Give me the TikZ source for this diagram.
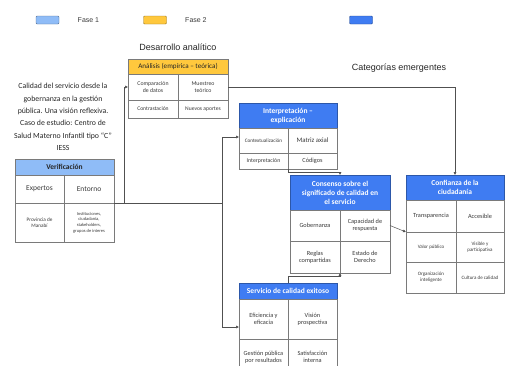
\documentclass[tikz,border=0pt]{standalone}
\usepackage{fontspec}
\setmainfont{Carlito}
\newfontfamily\arialfont{Liberation Sans}
\usepackage{tikz}
\usetikzlibrary{arrows.meta,positioning}
\definecolor{azulclaro}{HTML}{8FBCF7}
\definecolor{naranja}{HTML}{FFC83D}
\definecolor{azul}{HTML}{3F7CF2}
\definecolor{gris}{HTML}{7A7A7A}
\definecolor{textogris}{HTML}{3A3A3A}
\definecolor{lineagris}{HTML}{505050}
\tikzstyle{celda}=[
	rectangle,
	draw=gris,
	fill=white,
	inner sep=0,
	outer sep=0,
	align=center,
	anchor=north west,
	text=textogris,
	font=\fontsize{6.3}{7.3}\selectfont]
\tikzstyle{cabecera}=[
	celda,
	font=\bfseries\fontsize{7.5}{9}\selectfont]
\tikzstyle{fase1}=[
	cabecera,
	fill=azulclaro,
	text=black!85]
\tikzstyle{fase2}=[
	cabecera,
	fill=naranja,
	text=black!85,
	font=\fontsize{7.1}{8}\selectfont]
\tikzstyle{fase3}=[
	cabecera,
	fill=azul,
	draw=azul!70!black,
	text=white]
\tikzstyle{leyenda}=[
	rectangle,
	rounded corners=1,
	minimum width=23,
	minimum height=8]
\tikzstyle{linea}=[
	draw=lineagris,
	line width=0.5pt]

\begin{document}
\begin{tikzpicture}[x=1pt,y=-1pt,>={Latex[length=3pt,width=3pt]}]
	\useasboundingbox (0,0) rectangle (505,365);
	% leyenda
	\node[leyenda,fill=azulclaro,draw=azulclaro!60!black]	(ley1)	at (47.5,20)	{};
	\node[font=\arialfont\fontsize{7}{8}\selectfont,text=textogris]	(fase1 text)	[right=15 of ley1]	{Fase 1};
	\node[leyenda,fill=naranja,draw=naranja!60!black]	(ley2)	at (155,20)	{};
	\node[font=\arialfont\fontsize{7}{8}\selectfont,text=textogris]	(fase2 text)	[right=15 of ley2]	{Fase 2};
	\node[leyenda,fill=azul,draw=azul!60!black]	(ley3)	at (361,20)	{};
	% texto del caso
	\node[align=center,text=black!85,font=\fontsize{7.8}{12.4}\selectfont] (caso) at (63,117)
		{Calidad del servicio desde la\\gobernanza en la gestión\\pública. Una visión reflexiva.\\Caso de estudio: Centro de\\Salud Materno Infantil tipo “C”\\IESS};
	% verificacion
	\node[fase1,minimum width=99,minimum height=16]	(verificacion)	at (15,159)	{Verificación};
	\node[celda,minimum width=49,minimum height=28,font=\fontsize{7.5}{9}\selectfont]	(expertos)	at (verificacion.south west)	{Expertos};
	\node[celda,minimum width=50,minimum height=28,font=\fontsize{7.5}{9}\selectfont]	(entorno)	at (expertos.north east)	{Entorno};
	\node[celda,minimum width=49,minimum height=39,font=\fontsize{5.2}{6.2}\selectfont]	(manabi)	at (expertos.south west)	{Provincia de\\Manabí};
	\node[celda,minimum width=50,minimum height=39,font=\fontsize{4.5}{5.6}\selectfont]	(instituciones)	at (manabi.north east)	{Instituciones,\\ciudadanía,\\stakeholders,\\grupos de interes};
	% analisis
	\node[font=\arialfont\fontsize{9}{10}\selectfont,text=black!85]	(desarrollo)	at (178,47)	{Desarrollo analítico};
	\node[fase2,minimum width=100,minimum height=15]	(analisis)	at (128,59)	{Análisis (empírica – teórica)};
	\node[celda,minimum width=50,minimum height=26,font=\fontsize{5.8}{6.8}\selectfont]	(comparacion)	at (analisis.south west)	{Comparación\\de datos};
	\node[celda,minimum width=50,minimum height=26,font=\fontsize{5.8}{6.8}\selectfont]	(muestreo)	at (comparacion.north east)	{Muestreo\\teórico};
	\node[celda,minimum width=50,minimum height=18,font=\fontsize{5.6}{6.6}\selectfont]	(contrastacion)	at (comparacion.south west)	{Contrastación};
	\node[celda,minimum width=50,minimum height=18,font=\fontsize{5.6}{6.6}\selectfont]	(aportes)	at (contrastacion.north east)	{Nuevos aportes};
	% interpretacion
	\node[fase3,minimum width=98,minimum height=25]	(interpretacion)	at (239,103)	{Interpretación –\\explicación};
	\node[celda,minimum width=49,minimum height=25,font=\fontsize{5.2}{6.2}\selectfont]	(contexto)	at (interpretacion.south west)	{Contextualización};
	\node[celda,minimum width=49,minimum height=25,font=\fontsize{6.8}{7.8}\selectfont]	(matriz)	at (contexto.north east)	{Matriz axial};
	\node[celda,minimum width=49,minimum height=16,font=\fontsize{5.8}{6.8}\selectfont]	(interp)	at (contexto.south west)	{Interpretación};
	\node[celda,minimum width=49,minimum height=16]	(codigos)	at (interp.north east)	{Códigos};
	% consenso
	\node[fase3,minimum width=100,minimum height=35]	(consenso)	at (290,175)	{Consenso sobre el\\significado de calidad en\\el servicio};
	\node[celda,minimum width=50,minimum height=31]	(gobernanza)	at (consenso.south west)	{Gobernanza};
	\node[celda,minimum width=50,minimum height=31]	(capacidad)	at (gobernanza.north east)	{Capacidad de\\respuesta};
	\node[celda,minimum width=50,minimum height=32]	(reglas)	at (gobernanza.south west)	{Reglas\\compartidas};
	\node[celda,minimum width=50,minimum height=32]	(derecho)	at (reglas.north east)	{Estado de\\Derecho};
	% confianza
	\node[font=\arialfont\fontsize{9}{10}\selectfont,text=black!85]	(categorias)	at (399,68)	{Categorías emergentes};
	\node[fase3,minimum width=98,minimum height=25]	(confianza)	at (406,175)	{Confianza de la\\ciudadanía};
	\node[celda,minimum width=50,minimum height=32]	(transparencia)	at (confianza.south west)	{Transparencia};
	\node[celda,minimum width=48,minimum height=32]	(accesible)	at (transparencia.north east)	{Accesible};
	\node[celda,minimum width=50,minimum height=30,font=\fontsize{5}{6}\selectfont]	(valor)	at (transparencia.south west)	{Valor público};
	\node[celda,minimum width=48,minimum height=30,font=\fontsize{5}{6}\selectfont]	(visible)	at (valor.north east)	{Visible y\\participativa};
	\node[celda,minimum width=50,minimum height=31,font=\fontsize{5}{6}\selectfont]	(organizacion)	at (valor.south west)	{Organización\\inteligente};
	\node[celda,minimum width=48,minimum height=31,font=\fontsize{5}{6}\selectfont]	(cultura)	at (organizacion.north east)	{Cultura de calidad};
	% servicio
	\node[fase3,minimum width=98,minimum height=16]	(servicio)	at (239,283)	{Servicio de calidad exitoso};
	\node[celda,minimum width=49,minimum height=40]	(eficiencia)	at (servicio.south west)	{Eficiencia y\\eficacia};
	\node[celda,minimum width=49,minimum height=40]	(vision)	at (eficiencia.north east)	{Visión\\prospectiva};
	\node[celda,minimum width=49,minimum height=36]	(gestion)	at (eficiencia.south west)	{Gestión pública\\por resultados};
	\node[celda,minimum width=49,minimum height=36]	(satisfaccion)	at (gestion.north east)	{Satisfacción\\interna};
	% conexiones
	\coordinate (j1) at (124,203);
	\coordinate (j2) at (222,203);
	\draw[linea] (entorno.south east) -- (j2);
	\draw[linea,->] (j1) |- (comparacion.west);
	\draw[linea,->] (j2) |- ([yshift=3.5]contexto.west);
	\draw[linea,->] (j2) |- ([yshift=-8]eficiencia.west);
	\draw[linea,->] (muestreo.east) -| (confianza.north);
	\draw[linea,->] (codigos.south west) -- ++(0,3) -| (consenso.north);
	\draw[linea,->] (servicio.north) -- ++(0,-7) -| (reglas.south east);
	\draw[linea,->] (capacidad.east) -- (valor.north west);
\end{tikzpicture}
\end{document}
